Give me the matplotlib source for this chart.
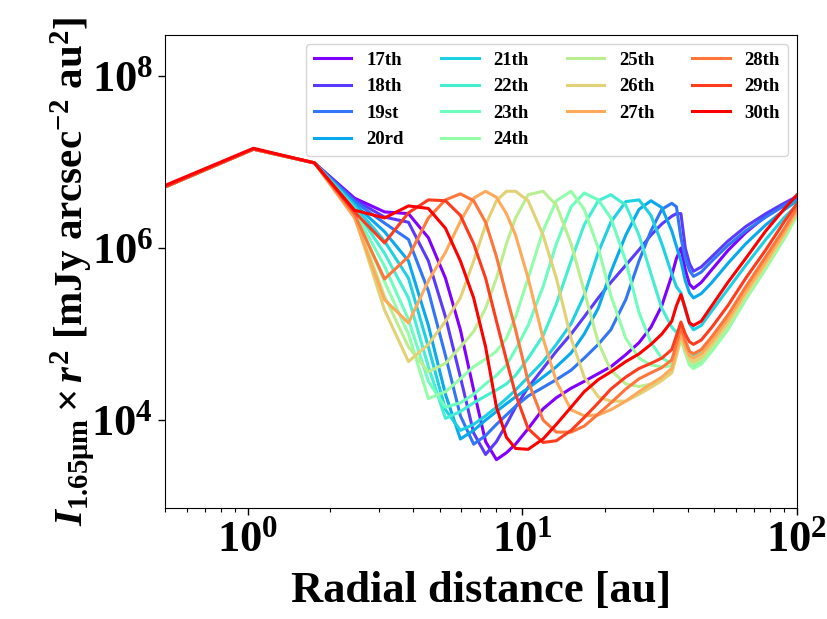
import numpy as np
import matplotlib
matplotlib.use("Agg")
import matplotlib.pyplot as plt
from matplotlib.ticker import FuncFormatter, NullFormatter, NullLocator, LogLocator

plt.rcParams['font.family'] = 'Liberation Serif'
plt.rcParams['font.weight'] = 'bold'
plt.rcParams['mathtext.fontset'] = 'custom'
plt.rcParams['mathtext.rm'] = 'Liberation Serif:bold'
plt.rcParams['mathtext.it'] = 'Liberation Serif:italic:bold'
plt.rcParams['mathtext.bf'] = 'Liberation Serif:bold'

# radio [au] (mismo muestreo para todas las curvas)
r_au = [0.35, 1.05, 1.75, 2.45, 3.15, 3.85, 4.55, 5.25, 5.95, 6.65,
        7.35, 8.05, 8.75, 9.45, 10.5, 11.9, 13.3, 15.05, 16.8, 18.9,
        21.0, 23.8, 26.6, 29.4, 32.2, 35.0, 36.4, 37.8, 39.2, 40.6,
        42.0, 44.8, 49.0, 56.0, 65.1, 77.0, 89.6, 100.1]

# log10(I * r^2), una lista por generacion
logI_17 = [6.50, 7.15, 6.99, 6.58, 6.42, 6.40, 6.12, 5.65, 5.05, 4.35,
           3.75, 3.54, 3.62, 3.72, 3.90, 4.13, 4.26, 4.37, 4.45, 4.54,
           4.62, 4.76, 4.90, 5.08, 5.33, 5.68, 5.88, 6.00, 5.75, 5.58,
           5.53, 5.60, 5.75, 5.97, 6.18, 6.37, 6.50, 6.60]
logI_18 = [6.50, 7.15, 6.99, 6.56, 6.36, 6.30, 5.85, 5.20, 4.50, 3.85,
           3.60, 3.75, 3.95, 4.15, 4.38, 4.60, 4.80, 5.00, 5.20, 5.42,
           5.60, 5.80, 5.98, 6.15, 6.28, 6.37, 6.40, 6.40, 6.00, 5.82,
           5.73, 5.78, 5.90, 6.08, 6.25, 6.40, 6.52, 6.60]
logI_19 = [6.50, 7.15, 6.99, 6.54, 6.29, 6.10, 5.50, 4.75, 4.05, 3.72,
           3.82, 3.95, 4.06, 4.16, 4.28, 4.38, 4.47, 4.58, 4.72, 4.88,
           5.05, 5.40, 5.85, 6.20, 6.45, 6.52, 6.48, 6.12, 5.88, 5.74,
           5.67, 5.72, 5.85, 6.03, 6.20, 6.36, 6.49, 6.58]
logI_20 = [6.50, 7.15, 6.99, 6.51, 6.19, 5.85, 5.10, 4.30, 3.78, 3.88,
           4.00, 4.10, 4.19, 4.27, 4.37, 4.50, 4.62, 4.78, 5.00, 5.30,
           5.72, 6.15, 6.45, 6.55, 6.47, 6.20, 6.02, 5.85, 5.62, 5.48,
           5.42, 5.47, 5.60, 5.82, 6.05, 6.27, 6.44, 6.55]
logI_21 = [6.50, 7.15, 6.99, 6.49, 6.08, 5.65, 4.85, 4.12, 3.88, 3.95,
           4.05, 4.15, 4.25, 4.35, 4.50, 4.68, 4.88, 5.12, 5.45, 5.95,
           6.30, 6.54, 6.56, 6.38, 6.05, 5.70, 5.55, 5.48, 5.28, 5.12,
           5.05, 5.10, 5.27, 5.52, 5.80, 6.10, 6.35, 6.50]
logI_22 = [6.50, 7.15, 6.99, 6.46, 5.94, 5.42, 4.62, 4.02, 4.10, 4.20,
           4.28, 4.35, 4.42, 4.52, 4.72, 4.98, 5.35, 5.85, 6.27, 6.55,
           6.62, 6.50, 6.15, 5.70, 5.30, 5.08, 5.02, 5.08, 4.92, 4.79,
           4.75, 4.80, 4.95, 5.20, 5.52, 5.87, 6.20, 6.42]
logI_23 = [6.50, 7.15, 6.99, 6.43, 5.79, 5.17, 4.45, 4.15, 4.20, 4.30,
           4.42, 4.52, 4.64, 4.82, 5.10, 5.55, 6.05, 6.48, 6.64, 6.56,
           6.35, 5.85, 5.25, 4.90, 4.72, 4.66, 4.80, 4.97, 4.80, 4.66,
           4.63, 4.68, 4.83, 5.08, 5.42, 5.78, 6.13, 6.38]
logI_24 = [6.50, 7.15, 6.99, 6.41, 5.61, 5.00, 4.25, 4.33, 4.48, 4.62,
           4.71, 4.80, 4.95, 5.20, 5.65, 6.20, 6.55, 6.66, 6.45, 6.00,
           5.45, 4.95, 4.72, 4.64, 4.62, 4.63, 4.78, 4.95, 4.78, 4.64,
           4.60, 4.65, 4.80, 5.05, 5.40, 5.76, 6.10, 6.38]
logI_25 = [6.50, 7.15, 6.99, 6.39, 5.44, 4.85, 4.56, 4.66, 4.85, 5.03,
           5.30, 5.65, 6.05, 6.35, 6.62, 6.66, 6.50, 6.05, 5.50, 4.90,
           4.58, 4.42, 4.39, 4.42, 4.47, 4.55, 4.74, 4.95, 4.80, 4.68,
           4.65, 4.70, 4.85, 5.10, 5.44, 5.79, 6.13, 6.40]
logI_26 = [6.50, 7.15, 6.99, 6.37, 5.28, 4.68, 4.88, 5.15, 5.42, 5.85,
           6.27, 6.55, 6.66, 6.66, 6.55, 6.15, 5.65, 4.95, 4.50, 4.27,
           4.22, 4.22, 4.30, 4.38, 4.46, 4.55, 4.76, 4.98, 4.82, 4.71,
           4.68, 4.73, 4.88, 5.13, 5.47, 5.82, 6.15, 6.42]
logI_27 = [6.50, 7.15, 6.99, 6.35, 5.40, 5.13, 5.62, 5.95, 6.31, 6.58,
           6.66, 6.59, 6.40, 6.15, 5.65, 4.95, 4.45, 4.12, 4.05, 4.06,
           4.12, 4.22, 4.33, 4.42, 4.50, 4.60, 4.80, 5.02, 4.86, 4.75,
           4.72, 4.77, 4.92, 5.17, 5.50, 5.85, 6.18, 6.44]
logI_28 = [6.50, 7.15, 6.99, 6.39, 5.64, 5.90, 6.35, 6.56, 6.63, 6.55,
           6.30, 5.90, 5.45, 5.05, 4.45, 4.00, 3.86, 3.86, 3.93, 4.07,
           4.20, 4.36, 4.48, 4.55, 4.61, 4.70, 4.88, 5.08, 4.92, 4.80,
           4.77, 4.82, 4.97, 5.22, 5.55, 5.90, 6.22, 6.47]
logI_29 = [6.50, 7.15, 6.99, 6.42, 6.06, 6.41, 6.56, 6.55, 6.38, 6.05,
           5.65, 5.15, 4.70, 4.30, 3.90, 3.74, 3.76, 3.88, 4.03, 4.20,
           4.36, 4.50, 4.60, 4.66, 4.72, 4.82, 4.98, 5.14, 5.00, 4.91,
           4.88, 4.93, 5.08, 5.33, 5.65, 5.98, 6.30, 6.52]
logI_30 = [6.52, 7.16, 6.99, 6.44, 6.35, 6.49, 6.46, 6.23, 5.85, 5.42,
           4.85, 4.15, 3.80, 3.67, 3.66, 3.78, 3.95, 4.15, 4.33, 4.47,
           4.56, 4.68, 4.77, 4.88, 5.00, 5.15, 5.33, 5.46, 5.30, 5.13,
           5.10, 5.15, 5.33, 5.60, 5.88, 6.20, 6.45, 6.62]

etiquetas = ['17th', '18th', '19st', '20rd', '21th', '22th', '23th',
             '24th', '25th', '26th', '27th', '28th', '29th', '30th']
curvas = [logI_17, logI_18, logI_19, logI_20, logI_21, logI_22, logI_23,
          logI_24, logI_25, logI_26, logI_27, logI_28, logI_29, logI_30]

colores = plt.cm.rainbow(np.linspace(0, 1, len(curvas)))

fig = plt.figure(figsize=(8.27, 6.19), dpi=100)
ax = fig.add_axes([0.1995, 0.1793, 0.7642, 0.7642])

for logI, lab, c in zip(curvas, etiquetas, colores):
    ax.plot(r_au, 10 ** np.array(logI), color=c, lw=2.2, label=lab)

ax.set_xscale('log')
ax.set_yscale('log')
ax.set_xlim(0.5, 100)
ax.set_ylim(9.5e2, 3.0e8)

fmt = FuncFormatter(lambda v, p: r'$\mathbf{10^{%d}}$' % round(np.log10(v)))
ax.xaxis.set_major_formatter(fmt)
ax.yaxis.set_major_formatter(fmt)
ax.xaxis.set_minor_formatter(NullFormatter())
ax.set_yticks([1e4, 1e6, 1e8])
ax.yaxis.set_minor_locator(NullLocator())
ax.xaxis.set_minor_locator(LogLocator(base=10, subs=np.arange(2, 10)))
ax.tick_params(which='major', labelsize=32, length=5, width=1)
ax.tick_params(which='minor', length=3, width=0.8)

ax.set_xlabel('Radial distance [au]', fontsize=32, fontweight='bold', labelpad=8)
ax.set_ylabel(r'$I_{\mathbf{1.65μm}}\times r^{2}$ [mJy arcsec$^{-2}$ au$^{2}$]',
              fontsize=29.5, fontweight='bold', labelpad=-4)

ax.legend(loc='upper right', ncol=4, prop={'weight': 'bold', 'size': 13.5})

fig.savefig('out.png', dpi=100)
